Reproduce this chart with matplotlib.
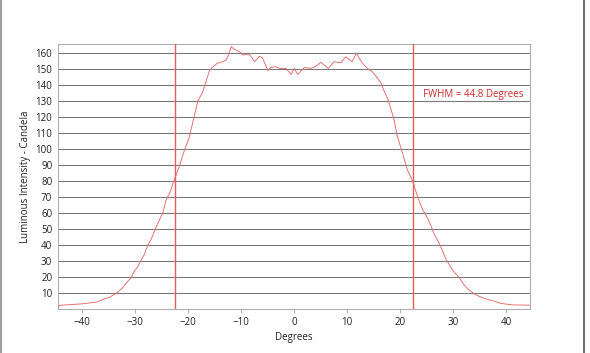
import matplotlib
matplotlib.use("Agg")
import matplotlib.pyplot as plt
from matplotlib.lines import Line2D

plt.rcParams['font.family'] = ['Open Sans', 'DejaVu Sans']

# beam profile
degrees = [-44.5, -44.2, -43.0, -41.5, -40.1, -38.8, -37.2, -35.7, -34.7, -33.5,
           -32.5, -31.5, -30.7, -30.0, -29.4, -28.8, -28.2, -27.5, -26.9, -26.3,
           -25.3, -24.7, -24.1, -23.4, -22.8, -22.5, -21.6, -20.6, -19.7, -19.1,
           -18.1, -17.2, -15.9, -15.3, -14.4, -13.4, -12.8, -12.3, -11.8, -11.2,
           -10.3, -9.6, -8.4, -7.4, -6.5, -5.9, -4.9, -4.3, -3.4, -2.7,
           -1.5, -0.5, 0.1, 0.7, 2.0, 3.2, 4.2, 5.1, 6.5, 7.6,
           8.9, 9.8, 11.0, 11.8, 12.9, 13.9, 14.8, 15.5, 16.4, 17.0,
           17.7, 18.3, 18.9, 19.5, 20.5, 21.4, 22.4, 23.3, 24.3, 24.9,
           25.8, 26.5, 27.4, 27.7, 28.7, 29.9, 31.2, 32.1, 33.0, 34.3,
           35.9, 37.4, 39.1, 41.2, 44.5]
candela = [0.5, 2.2, 2.5, 2.8, 3.1, 3.6, 4.2, 6.3, 7.3, 9.8,
           12.5, 16.5, 19.5, 24.0, 26.5, 30.5, 34.0, 40.0, 43.5, 48.5,
           56.0, 60.0, 68.0, 72.5, 78.5, 81.0, 89.0, 99.5, 107.5, 116.0,
           130.0, 135.5, 149.0, 151.4, 153.6, 154.6, 155.6, 159.0, 164.0, 162.3,
           161.0, 158.8, 159.4, 154.6, 158.0, 157.0, 149.0, 151.0, 151.5, 150.4,
           150.4, 146.7, 150.4, 146.7, 151.0, 150.4, 151.9, 154.2, 150.4, 154.6,
           154.0, 157.7, 154.6, 159.8, 153.8, 150.4, 148.3, 145.5, 141.5, 136.5,
           131.5, 125.0, 118.5, 108.0, 97.5, 87.0, 80.0, 70.5, 62.0, 58.8,
           52.5, 46.5, 41.0, 39.0, 31.0, 24.4, 19.5, 15.0, 11.9, 8.8,
           6.5, 5.2, 3.4, 2.5, 2.3]
half_max_angles = [-22.4, 22.4]
xticks = [-40, -30, -20, -10, 0, 10, 20, 30, 40]
yticks = list(range(10, 170, 10))

fig = plt.figure(figsize=(5.9, 3.53), dpi=100)
ax = fig.add_axes([0.098, 0.125, 0.800, 0.750])

ax.set_xlim(-44.5, 44.5)
ax.set_ylim(0, 165.6)
ax.set_xticks(xticks)
ax.set_yticks(yticks)
ax.grid(axis='y', color='#7a7a7a', linewidth=0.8, zorder=1)

for a in half_max_angles:
    ax.axvline(a, color='#ec5a5a', linewidth=1.0, zorder=3)
ax.plot(degrees, candela, color='#e36a6a', linewidth=0.65, zorder=4)

for s in ax.spines.values():
    s.set_color('#b0b0b0')
    s.set_linewidth(0.8)
ax.tick_params(axis='y', length=0, labelsize=7, pad=4, labelcolor='#222222')
ax.tick_params(axis='x', length=3, color='#b0b0b0', labelsize=7, pad=3,
               labelcolor='#222222')

ax.set_xlabel('Degrees', fontsize=7, color='#222222', labelpad=3)
ax.set_ylabel('Luminous Intensity - Candela', fontsize=7, color='#222222', labelpad=3)

ax.text(24.4, 134, 'FWHM = 44.8 Degrees', fontsize=7, color='#d22a2a', va='center')

# outer frame of the original picture
fig.add_artist(Line2D([0.002, 0.002], [0, 1], transform=fig.transFigure,
                      color='#a0a0a0', linewidth=1.5))
fig.add_artist(Line2D([0.99, 0.99], [0, 1], transform=fig.transFigure,
                      color='#555555', linewidth=1.2))

fig.savefig('out.png', dpi=100)
